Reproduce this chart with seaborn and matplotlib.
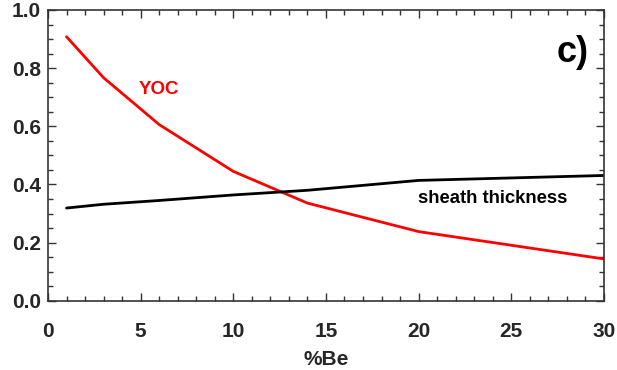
import numpy as np
import pandas as pd
import matplotlib
matplotlib.use("Agg")
import matplotlib.pyplot as plt
import seaborn as sns
from matplotlib.ticker import MultipleLocator

# values
be_pct = [1, 3, 6, 10, 14, 20, 30]
yoc = [0.908, 0.767, 0.606, 0.445, 0.336, 0.238, 0.144]
sheath = [0.319, 0.332, 0.345, 0.364, 0.380, 0.414, 0.431]

sns.set_style("ticks")
plt.rcParams['font.family'] = ['Liberation Sans', 'DejaVu Sans']
plt.rcParams['font.weight'] = 'bold'

df = pd.DataFrame({"be": be_pct * 2,
                   "val": yoc + sheath,
                   "curve": ["YOC"] * len(be_pct) + ["sheath"] * len(be_pct)})

fig = plt.figure(figsize=(6.17, 3.70), dpi=100)
ax = fig.add_axes([0.0778, 0.187, 0.901, 0.786])

sns.lineplot(data=df, x="be", y="val", hue="curve", palette={"YOC": "#ff0000", "sheath": "black"},
             linewidth=2.0, legend=False, ax=ax)

ax.set_xlim(0, 30)
ax.set_ylim(0, 1.0)
ax.xaxis.set_major_locator(MultipleLocator(5))
ax.xaxis.set_minor_locator(MultipleLocator(1))
ax.yaxis.set_major_locator(MultipleLocator(0.2))
ax.yaxis.set_minor_locator(MultipleLocator(0.05))
ax.yaxis.set_major_formatter(matplotlib.ticker.FormatStrFormatter("%.1f"))
ax.tick_params(which="both", direction="in", top=True, right=True, color="#333333", width=1.0)
ax.tick_params(which="major", length=6, labelsize=15, pad=15)
ax.tick_params(axis="y", which="major", pad=5)
ax.tick_params(which="minor", length=3.5)
for lbl in ax.get_xticklabels() + ax.get_yticklabels():
    lbl.set_fontweight("bold")
for sp in ax.spines.values():
    sp.set_linewidth(1.2)
    sp.set_color("#333333")

ax.set_xlabel("%Be", fontsize=15, fontweight="bold", labelpad=7)
ax.set_ylabel("")

ax.text(6.0, 0.725, "YOC", color="#ff0000", fontsize=13.5, fontweight="bold", ha="center", va="center")
ax.text(24.0, 0.353, "sheath thickness", color="black", fontsize=13.3, fontweight="bold", ha="center", va="center")
ax.text(28.3, 0.853, "c)", color="black", fontsize=26, fontweight="bold", ha="center", va="center")

fig.savefig("out.png", dpi=100)
